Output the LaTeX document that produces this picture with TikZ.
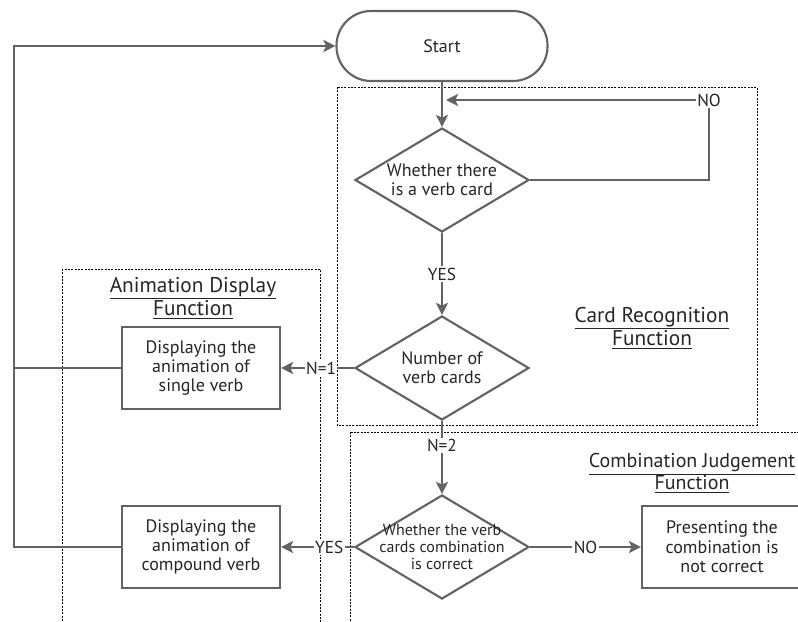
\documentclass[tikz,border=0pt]{standalone}
\usepackage{fontspec}
\setmainfont{PT Sans}
\usetikzlibrary{shapes.geometric,arrows.meta}
\definecolor{ln}{HTML}{636363}
\definecolor{tx}{HTML}{262626}
\begin{document}
\begin{tikzpicture}[x=0.75pt,y=-0.75pt,
  line/.style={draw=ln,line width=1.6pt},
  arr/.style={line,-{Stealth[length=9pt,width=9pt,inset=2pt]}},
  box/.style={draw=ln,line width=1.6pt,fill=white,minimum width=118.5pt,minimum height=61pt,align=center,font=\fontsize{13.5}{14.5}\selectfont,text=tx,inner sep=2pt},
  dia/.style={diamond,draw=ln,line width=1.6pt,fill=white,minimum width=130.5pt,minimum height=78pt,inner sep=0pt},
  diatxt/.style={align=center,text=tx,font=\fontsize{13.5}{14.5}\selectfont,inner sep=0pt},
  diasmall/.style={align=center,text=tx,font=\fontsize{12}{12.5}\selectfont,inner sep=0pt},
  lab/.style={fill=white,inner sep=1pt,text=tx,font=\fontsize{13}{14}\selectfont},
  grp/.style={draw=black,line width=0.6pt,dash pattern=on 1.5pt off 1pt},
  grplab/.style={align=center,text=tx,font=\fontsize{16}{16.5}\selectfont}
]
\useasboundingbox (0,0) rectangle (798,621);

% group frames
\draw[grp] (337,87) rectangle (757,425);
\draw[grp] (62,269) rectangle (320,640);
\draw[grp] (350,432) rectangle (820,640);

\node[grplab] (lbl1) at (652,328) {\underline{Card Recognition}\\\underline{Function}};
\node[grplab] (lbl2) at (193,298) {\underline{Animation Display}\\\underline{Function}};
\node[grplab,font=\fontsize{15}{16.5}\selectfont] (lbl3) at (692,473) {\underline{Combination Judgement}\\\underline{Function}};

% nodes
\node[draw=ln,line width=1.6pt,fill=white,rounded corners=26pt,minimum width=158.25pt,minimum height=52.5pt,text=tx,font=\fontsize{13.5}{14.5}\selectfont] (start) at (442,46) {Start};
\node[dia,label={[diatxt]center:{Whether there\\is a verb card}}] (d1) at (442,180) {};
\node[dia,label={[diatxt]center:{Number of\\verb cards}}] (d2) at (442,368) {};
\node[dia,label={[diasmall]center:{Whether the verb\\cards combination\\is correct}}] (d3) at (442,547) {};
\node[box] (b1) at (201,368) {Displaying the\\animation of\\single verb};
\node[box] (b2) at (201,547) {Displaying the\\animation of\\compound verb};
\node[box,minimum width=120pt] (b3) at (722,547) {Presenting the\\combination is\\not correct};

\coordinate (L) at (14,46);
\coordinate (nocorner) at (709,100);
\coordinate (join) at (446,100);

% connectors
\draw[arr] (start) -- (d1);
\draw[line] (d1.east) -| (nocorner);
\draw[arr] (nocorner) -- (join);
\node[lab] (no1) at (nocorner) {NO};
\draw[arr] (d1) -- node[lab] (yes1) {YES} (d2);
\draw[arr] (d2.west) -- node[lab,pos=0.45] (n1) {N=1} (b1.east);
\draw[arr] (d2.south) -- node[lab,pos=0.33] (n2) {N=2} (d3.north);
\draw[arr] (d3.west) -- node[lab,pos=0.34] (yes2) {YES} (b2.east);
\draw[arr] (d3.east) -- node[lab] (no2) {NO} (b3.west);
\draw[line] (b1.west) -- (b1.west -| L);
\draw[arr] (b2.west) -| (L) -- (start.west);
\end{tikzpicture}
\end{document}
